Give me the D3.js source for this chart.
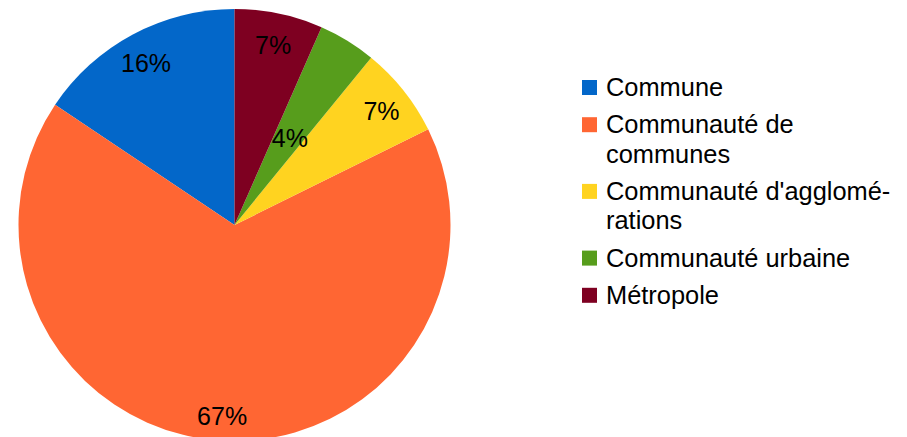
<!DOCTYPE html>
<html>
<head>
<meta charset="utf-8">
<script src="https://cdn.jsdelivr.net/npm/d3@7"></script>
<style>
	body { margin: 0; background: #fff; }
	svg { display: block; font-family: "Liberation Sans", Arial, sans-serif; }
</style>
</head>
<body>
<div id="chart"></div>
<script>
// categories, values (share in %), colours
const categories = [
	["Commune"],
	["Communauté de", "communes"],
	["Communauté d'agglomé-", "rations"],
	["Communauté urbaine"],
	["Métropole"]
];
const values = [15.6, 66.7, 6.8, 4.3, 6.6];
const colors = ["#0367c9", "#ff6633", "#ffd320", "#579d1c", "#7e0021"];

const width = 907;
const height = 437;
const cx = 234.5;
const cy = 225;
const radius = 216;

const svg = d3.select("#chart").append("svg")
	.attr("width", width)
	.attr("height", height);

const data = values.map((v, i) => ({ name: categories[i], value: v, color: colors[i] }));

// LibreOffice style: start at top, go counterclockwise
const pie = d3.pie()
	.sort(null)
	.value((d) => d.value)
	.startAngle(0)
	.endAngle(-2 * Math.PI);

const arc = d3.arc().innerRadius(0).outerRadius(radius);
const labelArc = d3.arc().innerRadius(radius * 0.87).outerRadius(radius * 0.87);
const smallLabelArc = d3.arc().innerRadius(radius * 0.49).outerRadius(radius * 0.49);

const total = d3.sum(values);
const slices = pie(data);

const g = svg.append("g").attr("transform", `translate(${cx},${cy})`);

g.selectAll("path")
	.data(slices)
	.join("path")
	.attr("d", arc)
	.attr("fill", (d) => d.data.color);

g.selectAll("text")
	.data(slices)
	.join("text")
	.attr("transform", (d) => {
		const c = d.data.value < 5 ? smallLabelArc.centroid(d) : labelArc.centroid(d);
		return `translate(${c[0]},${c[1]})`;
	})
	.attr("text-anchor", "middle")
	.attr("dy", "0.5em")
	.attr("font-size", 25)
	.attr("fill", "#000")
	.text((d) => Math.round((d.data.value / total) * 100) + "%");

// Legend
const legend = svg.append("g");
const lineH = 29.5;
const itemGap = 37.2;
let baseline = 96;
data.forEach((d, i) => {
	legend.append("rect")
		.attr("x", 582)
		.attr("y", baseline - 16)
		.attr("width", 15)
		.attr("height", 15)
		.attr("fill", d.color);
	const t = legend.append("text")
		.attr("x", 606)
		.attr("y", baseline)
		.attr("font-size", 25.4)
		.attr("fill", "#000");
	d.name.forEach((line, j) => {
		t.append("tspan")
			.attr("x", 606)
			.attr("dy", j === 0 ? 0 : lineH)
			.text(line);
	});
	baseline += (d.name.length - 1) * lineH + itemGap;
});
</script>
</body>
</html>
